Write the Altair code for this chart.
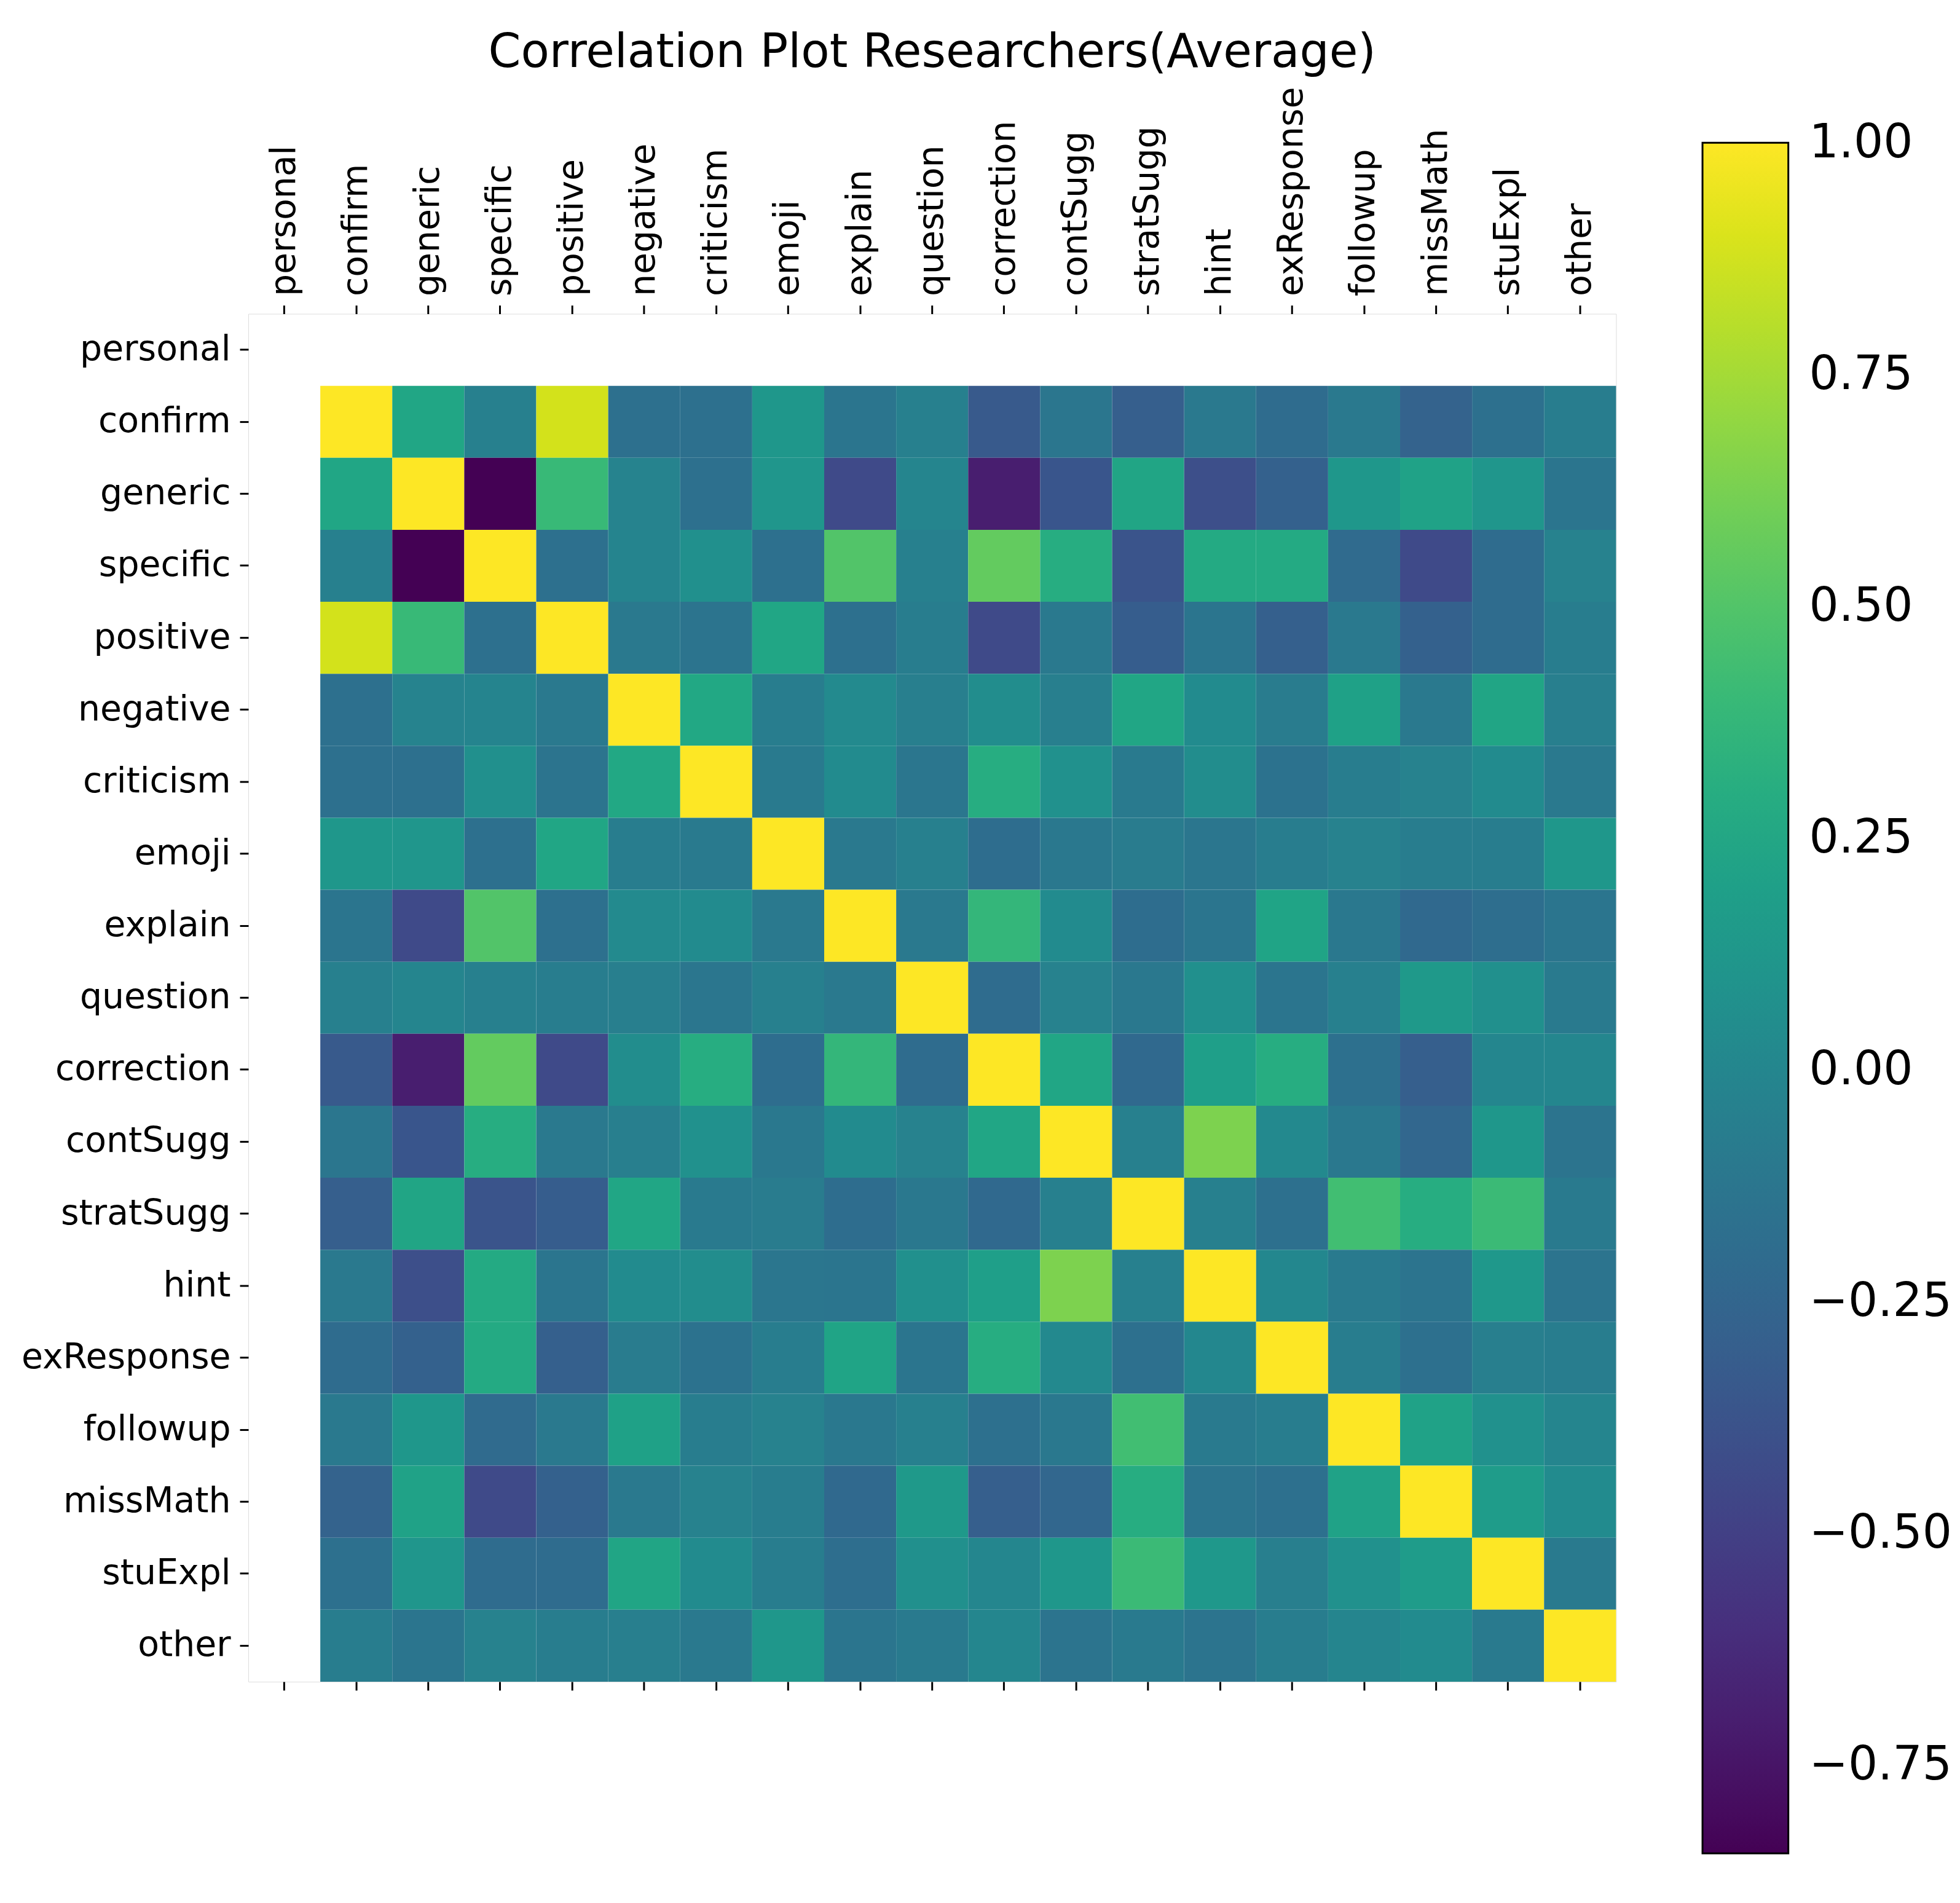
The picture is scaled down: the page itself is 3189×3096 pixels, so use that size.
import altair as alt
import pandas as pd

labels = ["personal", "confirm", "generic", "specific", "positive", "negative",
          "criticism", "emoji", "explain", "question", "correction", "contSugg",
          "stratSugg", "hint", "exResponse", "followup", "missMath", "stuExpl", "other"]

# correlation rows (columns: confirm ... other); "personal" has no values
confirm_r    = [1.00, 0.25, -0.05, 0.88, -0.17, -0.17, 0.13, -0.13, -0.05, -0.33, -0.12, -0.30, -0.10, -0.20, -0.10, -0.27, -0.17, -0.07]
generic_r    = [0.25, 1.00, -0.845, 0.40, -0.03, -0.17, 0.12, -0.44, -0.01, -0.70, -0.36, 0.24, -0.41, -0.28, 0.13, 0.22, 0.12, -0.13]
specific_r   = [-0.05, -0.845, 1.00, -0.17, -0.02, 0.07, -0.17, 0.50, -0.05, 0.56, 0.30, -0.37, 0.28, 0.28, -0.21, -0.44, -0.20, -0.04]
positive_r   = [0.88, 0.40, -0.17, 1.00, -0.10, -0.14, 0.25, -0.17, -0.07, -0.44, -0.10, -0.31, -0.13, -0.29, -0.10, -0.28, -0.20, -0.07]
negative_r   = [-0.17, -0.03, -0.02, -0.10, 1.00, 0.26, -0.07, 0.03, -0.06, 0.05, -0.06, 0.25, 0.04, -0.08, 0.21, -0.10, 0.24, -0.06]
criticism_r  = [-0.17, -0.17, 0.07, -0.14, 0.26, 1.00, -0.09, 0.04, -0.12, 0.30, 0.08, -0.09, 0.05, -0.15, -0.07, -0.04, 0.04, -0.10]
emoji_r      = [0.13, 0.12, -0.17, 0.25, -0.07, -0.09, 1.00, -0.10, -0.05, -0.19, -0.11, -0.08, -0.12, -0.07, -0.04, -0.07, -0.07, 0.13]
explain_r    = [-0.13, -0.44, 0.50, -0.17, 0.03, 0.04, -0.10, 1.00, -0.10, 0.38, 0.04, -0.19, -0.13, 0.23, -0.11, -0.22, -0.18, -0.13]
question_r   = [-0.05, -0.01, -0.05, -0.07, -0.06, -0.12, -0.05, -0.10, 1.00, -0.20, -0.04, -0.11, 0.07, -0.13, -0.05, 0.15, 0.07, -0.09]
correction_r = [-0.33, -0.70, 0.56, -0.44, 0.05, 0.30, -0.19, 0.38, -0.20, 1.00, 0.25, -0.22, 0.19, 0.30, -0.17, -0.30, 0.00, 0.00]
contSugg_r   = [-0.12, -0.36, 0.30, -0.10, -0.06, 0.08, -0.11, 0.04, -0.04, 0.25, 1.00, -0.05, 0.64, 0.02, -0.11, -0.24, 0.13, -0.14]
stratSugg_r  = [-0.30, 0.24, -0.37, -0.31, 0.25, -0.09, -0.08, -0.19, -0.11, -0.22, -0.05, 1.00, -0.05, -0.17, 0.44, 0.30, 0.41, -0.09]
hint_r       = [-0.10, -0.41, 0.28, -0.13, 0.04, 0.05, -0.12, -0.13, 0.07, 0.19, 0.64, -0.05, 1.00, 0.01, -0.09, -0.14, 0.14, -0.14]
exResponse_r = [-0.20, -0.28, 0.28, -0.29, -0.08, -0.15, -0.07, 0.23, -0.13, 0.30, 0.02, -0.17, 0.01, 1.00, -0.07, -0.17, -0.06, -0.07]
followup_r   = [-0.10, 0.13, -0.21, -0.10, 0.21, -0.07, -0.04, -0.11, -0.05, -0.17, -0.11, 0.44, -0.09, -0.07, 1.00, 0.22, 0.08, -0.01]
missMath_r   = [-0.27, 0.22, -0.44, -0.28, -0.10, -0.04, -0.07, -0.22, 0.15, -0.30, -0.24, 0.30, -0.14, -0.17, 0.22, 1.00, 0.17, 0.04]
stuExpl_r    = [-0.17, 0.12, -0.20, -0.20, 0.24, 0.04, -0.07, -0.18, 0.07, 0.00, 0.13, 0.41, 0.14, -0.06, 0.08, 0.17, 1.00, -0.09]
other_r      = [-0.07, -0.13, -0.04, -0.07, -0.06, -0.10, 0.13, -0.13, -0.09, 0.00, -0.14, -0.09, -0.14, -0.07, -0.01, 0.04, -0.09, 1.00]

colorbar_ticks = [1.0, 0.75, 0.5, 0.25, 0.0, -0.25, -0.5, -0.75]
# top of the colour range nudged a hair above 1 so the "1.00" label centres on the bar's top edge
color_min, color_max = -0.845, 1.0005

rows = [confirm_r, generic_r, specific_r, positive_r, negative_r, criticism_r,
        emoji_r, explain_r, question_r, correction_r, contSugg_r, stratSugg_r,
        hint_r, exResponse_r, followup_r, missMath_r, stuExpl_r, other_r]

records = []
for i, r in enumerate(rows):
    for j, v in enumerate(r):
        records.append({"row": labels[i + 1], "col": labels[j + 1], "value": v})
df = pd.DataFrame(records)

FONT = "DejaVu Sans"

x_scale = alt.Scale(domain=labels, paddingInner=0, paddingOuter=0)
y_scale = alt.Scale(domain=labels, paddingInner=0, paddingOuter=0)

top_axis = alt.Axis(orient="top", labelAngle=-90, labelFontSize=57, labelFont=FONT,
                    labelColor="black", labelPadding=15, tickSize=14, tickWidth=3,
                    tickColor="black", domain=False, title=None, labelLimit=1000,
                    labelAlign="left", labelBaseline="middle")
left_axis = alt.Axis(orient="left", labelFontSize=57, labelFont=FONT, labelColor="black",
                     labelPadding=15, tickSize=14, tickWidth=3, tickColor="black",
                     domain=False, title=None, labelLimit=1000)
bottom_axis = alt.Axis(orient="bottom", labels=False, tickSize=14, tickWidth=3,
                       tickColor="black", domain=False, title=None)

color = alt.Color(
    "value:Q",
    scale=alt.Scale(scheme="viridis", domain=[color_min, color_max]),
    legend=alt.Legend(
        type="gradient", title=None, orient="none", legendX=2372, legendY=-279,
        direction="vertical", gradientLength=2790, gradientThickness=140,
        gradientStrokeColor="black", gradientStrokeWidth=3,
        values=colorbar_ticks, format=".2f", labelFontSize=76, labelFont=FONT,
        labelColor="black", labelOffset=34, labelOverlap=False,
        labelLimit=1000,
    ),
)

heat = alt.Chart(df).mark_rect().encode(
    x=alt.X("col:N", sort=labels, scale=x_scale, axis=top_axis),
    y=alt.Y("row:N", sort=labels, scale=y_scale, axis=left_axis),
    color=color,
)

ticks_bottom = alt.Chart(df).mark_rect(opacity=0).encode(
    x=alt.X("col:N", sort=labels, scale=x_scale, axis=bottom_axis),
    y=alt.Y("row:N", sort=labels, scale=y_scale, axis=left_axis),
)

chart = alt.layer(heat, ticks_bottom).resolve_axis(x="independent").properties(
    width=2231,
    height=2231,
    padding={"left": 26, "top": 36, "right": 5, "bottom": 5},
    title=alt.TitleParams(
        text="Correlation Plot Researchers(Average)", fontSize=76, font=FONT,
        fontWeight="normal", anchor="middle", frame="group", offset=-44,
        baseline="alphabetic", color="black",
    ),
).configure_view(stroke="black", strokeWidth=3).configure(background="white")

chart.save("out.html", embed_options={"renderer": "svg", "actions": False})
